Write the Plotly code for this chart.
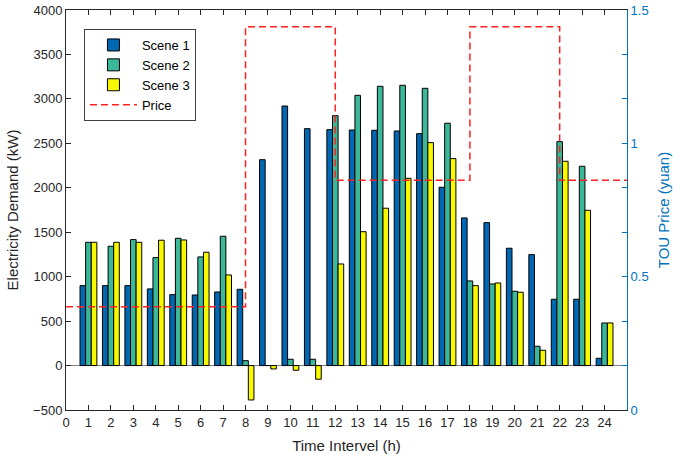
import plotly.graph_objects as go

hours = list(range(1, 25))
scene1 = [899, 899, 899, 862, 798, 794, 828, 858, 2316, 2920, 2665, 2654,
          2650, 2647, 2639, 2609, 2006, 1661, 1608, 1320, 1248, 746, 746, 82]
scene2 = [1387, 1342, 1417, 1214, 1432, 1222, 1455, 55, 0, 71, 71, 2811,
          3040, 3142, 3153, 3119, 2726, 952, 918, 836, 217, 2519, 2242, 479]
scene3 = [1387, 1387, 1387, 1410, 1413, 1275, 1019, -387, -38, -53, -154, 1143,
          1506, 1770, 2107, 2508, 2328, 899, 929, 825, 172, 2298, 1747, 479]
price_breaks = [0, 8, 12, 18, 22, 25]
price_values = [0.387, 1.437, 0.862, 1.437, 0.862, 0.862]

left_ticks = list(range(-500, 4001, 500))
right_tickvals = [i * 1.5 / 9 for i in range(10)]
right_ticktext = ["0", "", "", "0.5", "", "", "1", "", "", "1.5"]

FONT = "Liberation Sans, Arial, sans-serif"
BLUE = "#0072BD"
TXT = "#262626"

fig = go.Figure()
fig.add_trace(go.Bar(x=hours, y=scene1, name="Scene 1", marker=dict(color="#0068B2", line=dict(color="black", width=1))))
fig.add_trace(go.Bar(x=hours, y=scene2, name="Scene 2", marker=dict(color="#3BB89A", line=dict(color="black", width=1))))
fig.add_trace(go.Bar(x=hours, y=scene3, name="Scene 3", marker=dict(color="#F8F800", line=dict(color="black", width=1))))
fig.add_trace(go.Scatter(x=price_breaks, y=price_values, name="Price", mode="lines", yaxis="y2",
                         line=dict(color="#FF2020", width=1.5, dash="7px,4px", shape="hv")))

fig.update_layout(
    width=674, height=462,
    margin=dict(l=66, r=47, t=10, b=52, autoexpand=False),
    paper_bgcolor="white", plot_bgcolor="white",
    font=dict(family=FONT, size=13, color=TXT),
    barmode="group", bargap=0.25, bargroupgap=0,
    showlegend=True,
    legend=dict(x=0.032, y=0.9525, xanchor="left", yanchor="top",
                bordercolor="#404040", borderwidth=1, bgcolor="white",
                font=dict(size=13, family=FONT, color="black"), tracegroupgap=0,
                itemwidth=47),
    xaxis=dict(range=[0, 25], tickvals=list(range(0, 25)), ticks="inside", ticklen=5,
               tickcolor=TXT, showline=True, linecolor=TXT, linewidth=1,
               mirror="ticks", showgrid=False, zeroline=False, automargin=False,
               title=dict(text="Time Intervel (h)", font=dict(size=15, family=FONT, color=TXT), standoff=11),
               tickfont=dict(size=13, family=FONT, color=TXT)),
    yaxis=dict(range=[-500, 4000], tickvals=left_ticks, ticks="inside", ticklen=5,
               tickcolor=TXT, showline=True, linecolor=TXT, linewidth=1,
               showgrid=False, zeroline=True, zerolinecolor="#808080", zerolinewidth=1,
               automargin=False,
               title=dict(text="Electricity Demand (kW)", font=dict(size=15, family=FONT, color=TXT), standoff=10),
               tickfont=dict(size=13, family=FONT, color=TXT)),
    yaxis2=dict(range=[0, 1.5], overlaying="y", side="right", tickvals=right_tickvals,
                ticktext=right_ticktext, ticks="inside", ticklen=5, tickcolor=BLUE,
                showline=True, linecolor=BLUE, linewidth=1, showgrid=False, zeroline=False,
                automargin=False,
                tickfont=dict(size=13, family=FONT, color=BLUE),
                title=dict(text="TOU Price (yuan)", font=dict(size=15, family=FONT, color=BLUE), standoff=10)),
)

fig.write_html("out.html", config={"displayModeBar": False},
               post_script="document.body.style.margin='0';document.body.style.padding='0';")
